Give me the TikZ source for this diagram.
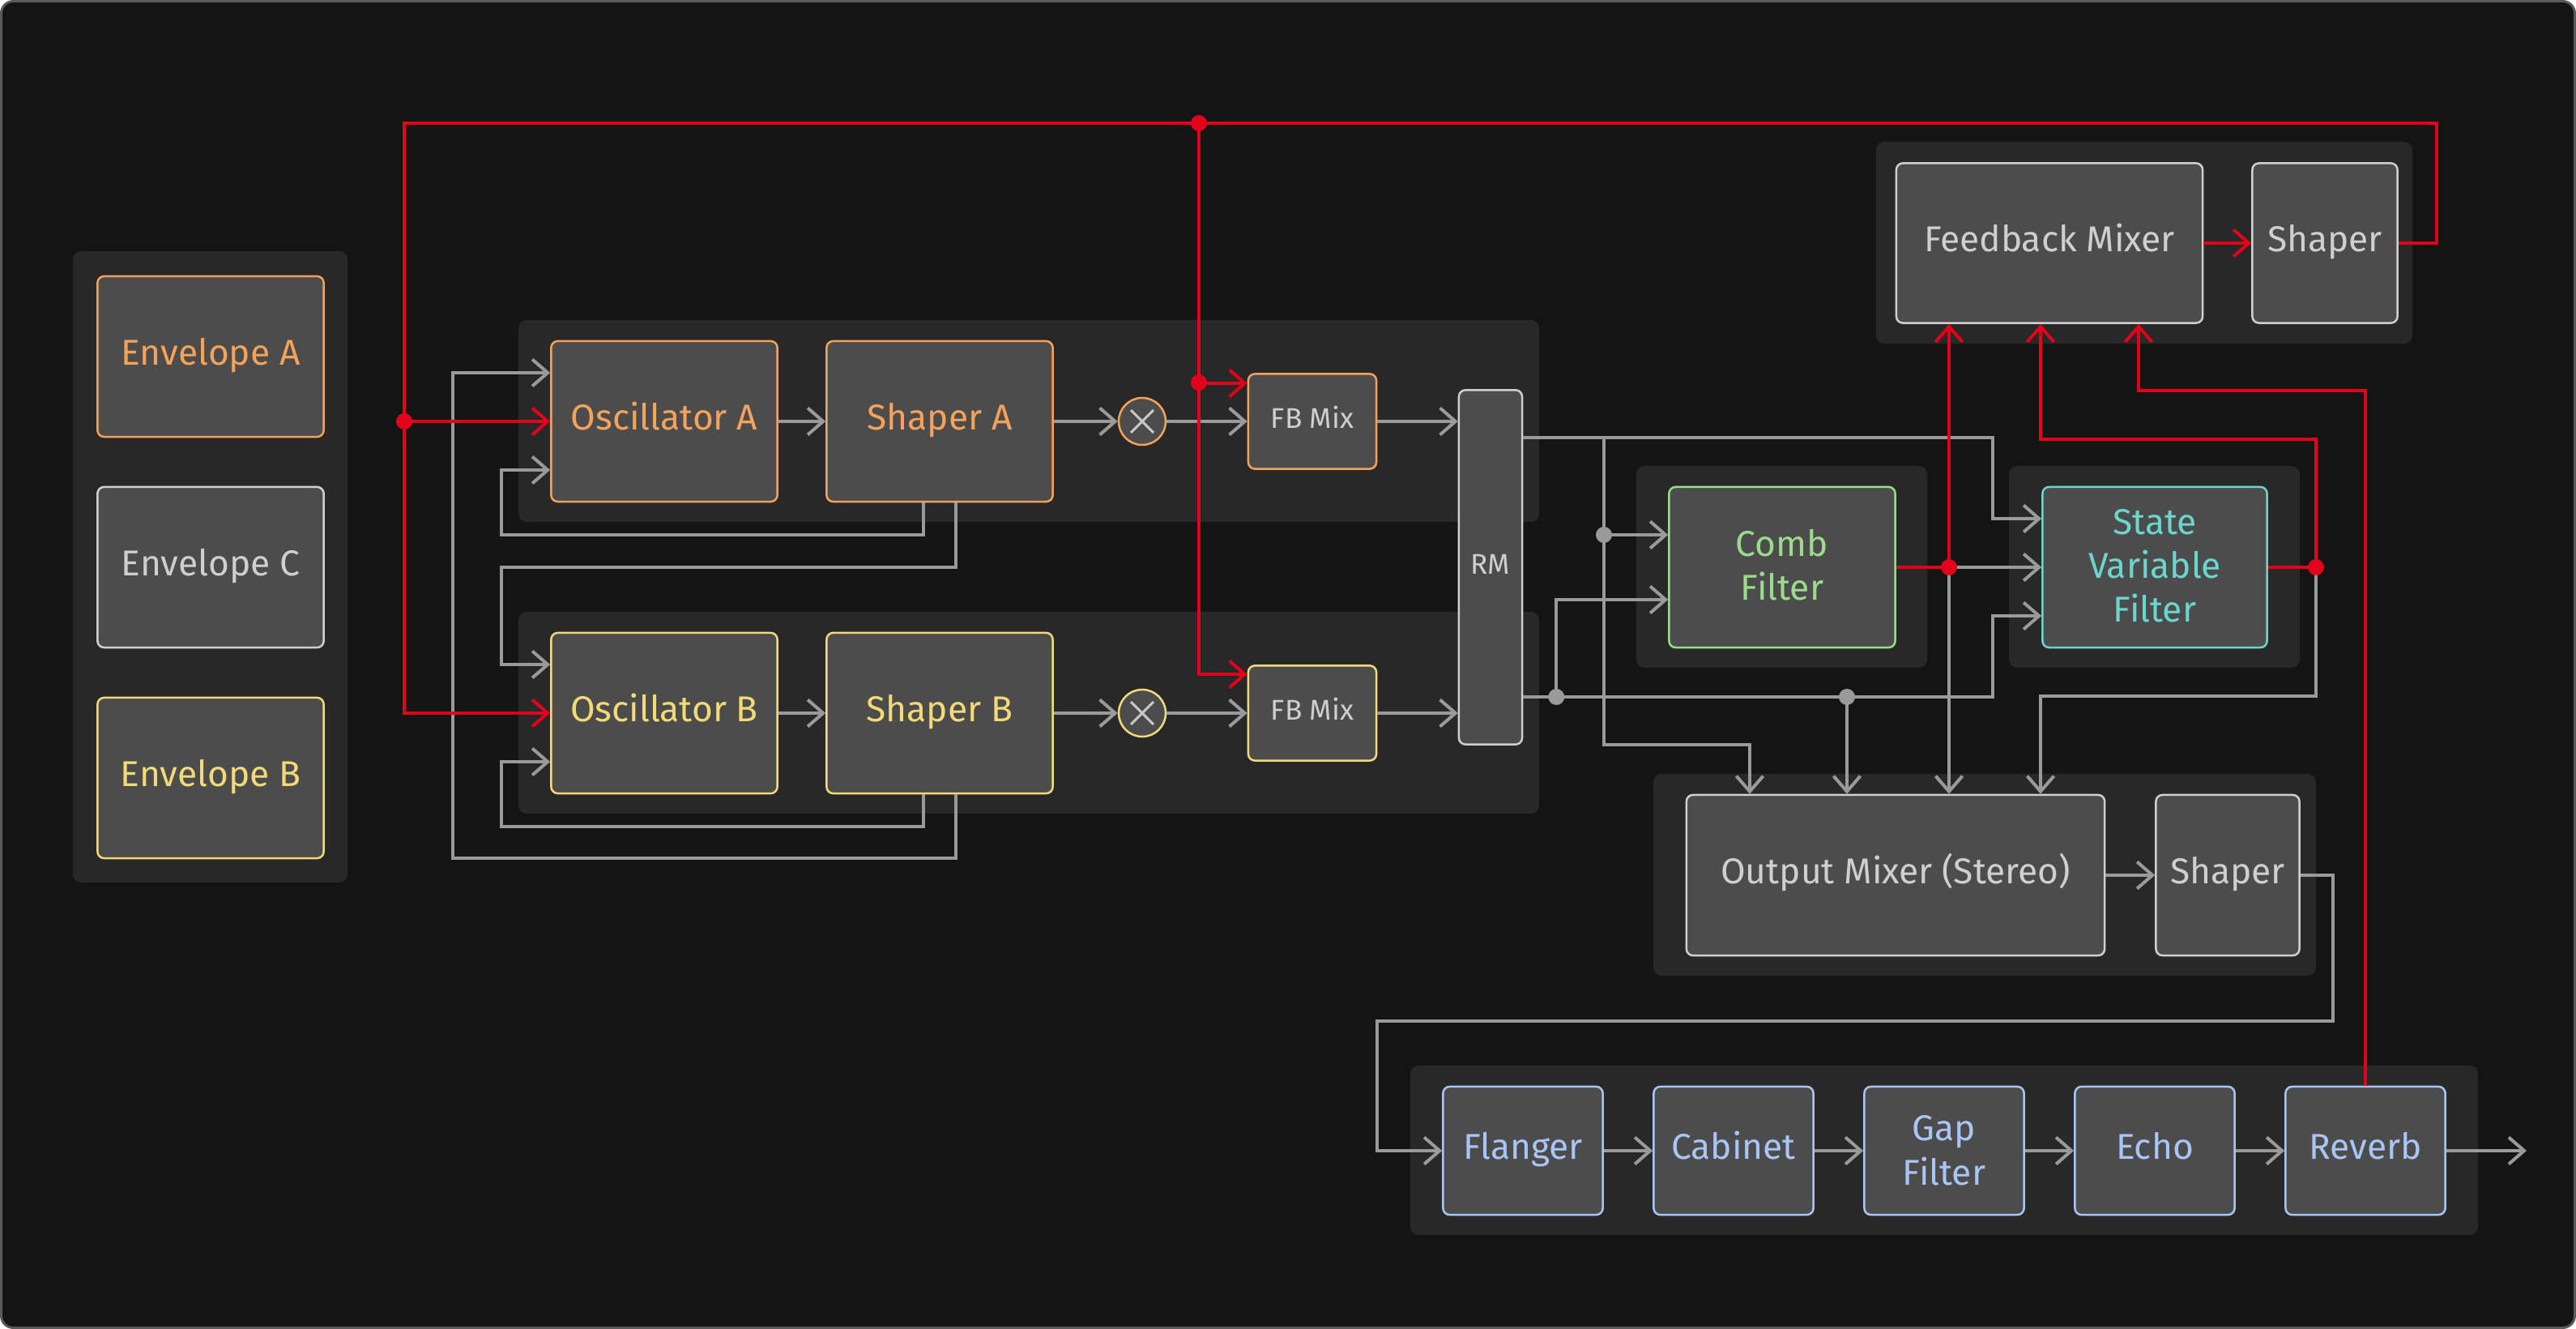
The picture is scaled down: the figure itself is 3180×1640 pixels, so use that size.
\documentclass[tikz,border=0pt]{standalone}
\usepackage{fontspec}
\setmainfont{Fira Sans}
\usetikzlibrary{arrows.meta, calc}

\definecolor{bgcol}{HTML}{141414}
\definecolor{framecol}{HTML}{5A5A5A}
\definecolor{panelcol}{HTML}{282828}
\definecolor{boxcol}{HTML}{4C4C4C}
\definecolor{wirecol}{HTML}{9A9A9A}
\definecolor{crosscol}{HTML}{C8C8C8}
\definecolor{fbred}{HTML}{E2001A}
\definecolor{txtgray}{HTML}{CFCFCF}
\definecolor{orangeA}{HTML}{F5A25A}
\definecolor{yellowB}{HTML}{F3DA78}
\definecolor{combgreen}{HTML}{9CDB8B}
\definecolor{svfcyan}{HTML}{6CD5CE}
\definecolor{fxblue}{HTML}{A8C5F6}

\newcommand\blockfont{\fontsize{12.6}{15.4}\selectfont}
\newcommand\tagfont{\fontsize{10}{12}\selectfont}

\begin{document}
\begin{tikzpicture}[x=0.01cm, y=-0.01cm, font=\blockfont,
  block/.style={draw=#1, text=#1, fill=boxcol, rounded corners=0.08cm, line width=0.025cm, align=center, inner sep=0pt,
    execute at begin node=\strut, execute at end node=\strut},
  block/.default=txtgray,
  wide/.style={minimum width=2.79cm, minimum height=1.98cm},
  stack/.style={text height=#1, text depth=0pt},
  fxbox/.style={block=fxblue, minimum width=1.97cm, minimum height=1.58cm},
  smallbox/.style={block=#1, text=txtgray, font=\tagfont, minimum width=1.58cm, minimum height=1.17cm},
  mult/.style={circle, draw=#1, fill=boxcol, line width=0.025cm, minimum size=0.58cm, inner sep=0pt},
  panel/.style={fill=panelcol, rounded corners=0.1cm},
  wire/.style={draw=wirecol, line width=0.04cm, -{Straight Barb[length=0.19cm,width=0.33cm]}},
  fbwire/.style={wire, draw=fbred}]

\useasboundingbox (0,0) rectangle (3180,1640);
\draw[framecol, fill=bgcol, line width=0.03cm, rounded corners=0.15cm] (1.5,1.5) rectangle (3178.5,1638.5);

% panels
\fill[panel] (90,310) rectangle (429,1089);
\fill[panel] (640,395) rectangle (1900,644);
\fill[panel] (640,755) rectangle (1900,1004);
\fill[panel] (2020,575) rectangle (2379,824);
\fill[panel] (2480,575) rectangle (2839,824);
\fill[panel] (2316,175) rectangle (2978,424);
\fill[panel] (2041,955) rectangle (2859,1204);
\fill[panel] (1741,1315) rectangle (3059,1524);

% blocks
\node[block=orangeA, wide] (envA) at (260,440) {Envelope A};
\node[block, wide] (envC) at (260,700) {Envelope C};
\node[block=yellowB, wide] (envB) at (260,960) {Envelope B};

\node[block=orangeA, wide] (oscA) at (820,520) {Oscillator A};
\node[block=orangeA, wide] (shpA) at (1160,520) {Shaper A};
\node[mult=orangeA] (mulA) at (1410,520) {};
\node[smallbox=orangeA] (fbmA) at (1620,520) {FB Mix};

\node[block=yellowB, wide] (oscB) at (820,880) {Oscillator B};
\node[block=yellowB, wide] (shpB) at (1160,880) {Shaper B};
\node[mult=yellowB] (mulB) at (1410,880) {};
\node[smallbox=yellowB] (fbmB) at (1620,880) {FB Mix};

\node[block, font=\tagfont, minimum width=0.78cm, minimum height=4.37cm] (rm) at (1840,700) {RM};

\node[block=combgreen, wide, stack=23.3pt] (comb) at (2200,700) {Comb\\Filter};
\node[block=svfcyan, wide, stack=38.6pt, minimum width=2.77cm] (svf) at (2660,700) {State\\Variable\\Filter};

\node[block, minimum width=3.78cm, minimum height=1.97cm] (fbmix) at (2530,300) {Feedback Mixer};
\node[block, minimum width=1.79cm, minimum height=1.97cm] (fbshp) at (2870,300) {Shaper};

\node[block, minimum width=5.16cm, minimum height=1.98cm] (omix) at (2340,1080) {Output Mixer (Stereo)};
\node[block, minimum width=1.77cm, minimum height=1.98cm] (oshp) at (2750,1080) {Shaper};

\node[fxbox] (flg) at (1880,1420) {Flanger};
\node[fxbox] (cab) at (2140,1420) {Cabinet};
\node[fxbox, stack=23.9pt] (gap) at (2400,1420) {Gap\\Filter};
\node[fxbox] (echo) at (2660,1420) {Echo};
\node[fxbox] (rev) at (2920,1420) {Reverb};
\coordinate (out) at (3119,1420);

\foreach \m in {mulA, mulB}
  \draw[crosscol, line width=0.03cm] ($(\m)+(-14,-14)$) -- ($(\m)+(14,14)$) ($(\m)+(-14,14)$) -- ($(\m)+(14,-14)$);

% oscillator rows
\draw[wire] (oscA) -- (shpA);
\draw[wire] (shpA) -- (mulA);
\draw[wire] (mulA) -- (fbmA);
\draw[wire] (fbmA.east) -- (fbmA.east -| rm.west);
\draw[wire] (oscB) -- (shpB);
\draw[wire] (shpB) -- (mulB);
\draw[wire] (mulB) -- (fbmB);
\draw[wire] (fbmB.east) -- (fbmB.east -| rm.west);

\draw[wire] ($(shpA.south)+(-20,0)$) |- (619,660) |- ($(oscA.west)+(0,60)$);
\draw[wire] ($(shpA.south)+(20,0)$) |- (619,700) |- ($(oscB.west)+(0,-60)$);
\draw[wire] ($(shpB.south)+(-20,0)$) |- (619,1020) |- ($(oscB.west)+(0,60)$);
\draw[wire] ($(shpB.south)+(20,0)$) |- (559,1059) |- ($(oscA.west)+(0,-60)$);

% ring modulator outputs
\coordinate (rmtop) at ($(rm.east)+(0,-160)$);
\coordinate (rmbot) at ($(rm.east)+(0,160)$);
\coordinate (combin1) at (1980,660);
\coordinate (combin2) at ($(rm.east)+(41,160)$);
\coordinate (omin1) at ($(omix.north)+(-180,0)$);
\coordinate (omin2) at ($(omix.north)+(-60,0)$);
\coordinate (omin3) at ($(omix.north)+(66,0)$);
\coordinate (omin4) at ($(omix.north)+(179,0)$);
\coordinate (fbin2) at ($(fbmix.south)+(-11,0)$);
\coordinate (fbin3) at ($(fbmix.south)+(110,0)$);

\draw[wire] (rmtop) -| (2460,640) -- (2460,640 -| svf.west);
\draw[wire] (rmtop -| combin1) |- ($(omin1)+(0,-61)$) -- (omin1);
\draw[wire] (combin1) -- (combin1 -| comb.west);
\draw[wire] (rmbot) -| (2460,760) -- (2460,760 -| svf.west);
\draw[wire] (combin2) |- (1980,740 -| comb.west);
\draw[wire] (rmbot -| omin2) -- (omin2);
\fill[wirecol] (combin1) circle (0.1cm);
\fill[wirecol] (combin2) circle (0.1cm);
\fill[wirecol] (rmbot -| omin2) circle (0.1cm);

% filters
\coordinate (combsplit) at (2406,700);
\coordinate (svfsplit) at (2859,700);
\draw[fbwire, -] (combsplit -| comb.east) -- (combsplit);
\draw[fbwire] (combsplit) -- (combsplit |- fbmix.south);
\draw[wire] (combsplit) -- (combsplit -| svf.west);
\draw[wire] (combsplit) -- (omin3);
\draw[fbwire, -] (svfsplit -| svf.east) -- (svfsplit);
\draw[fbwire] (svfsplit) |- ($(fbin2)+(0,142)$) -- (fbin2);
\draw[wire] (svfsplit) |- ($(omin4)+(0,-121)$) -- (omin4);
\fill[fbred] (combsplit) circle (0.1cm);
\fill[fbred] (svfsplit) circle (0.1cm);

% output chain
\draw[wire] (omix) -- (oshp);
\draw[wire] (oshp.east) -| (2880,1260) -| (1700,1420) -- (flg.west);
\draw[wire] (flg) -- (cab);
\draw[wire] (cab) -- (gap.west |- cab.east);
\draw[wire] (gap.east |- echo.west) -- (echo);
\draw[wire] (echo) -- (rev);
\draw[wire] (rev) -- (out);

% feedback path
\coordinate (fbtop) at (1480,152);
\coordinate (oscsplit) at (499,520);
\draw[fbwire] (fbmix) -- (fbshp);
\draw[fbwire] (rev.north) |- ($(fbin3)+(0,82)$) -- (fbin3);
\draw[fbwire, -] (fbshp.east) -| (3008,152) -| (oscsplit);
\draw[fbwire] (oscsplit) -- (oscA.west);
\draw[fbwire] (oscsplit) |- (oscB.west);
\draw[fbwire] (fbtop) |- ($(fbmA.west)+(0,-47)$);
\draw[fbwire] (fbtop) |- ($(fbmB.west)+(0,-48)$);
\fill[fbred] (fbtop) circle (0.1cm);
\fill[fbred] (oscsplit) circle (0.1cm);
\fill[fbred] (fbtop |- fbmA.north) ++(0,12) circle (0.1cm);

\end{tikzpicture}
\end{document}
